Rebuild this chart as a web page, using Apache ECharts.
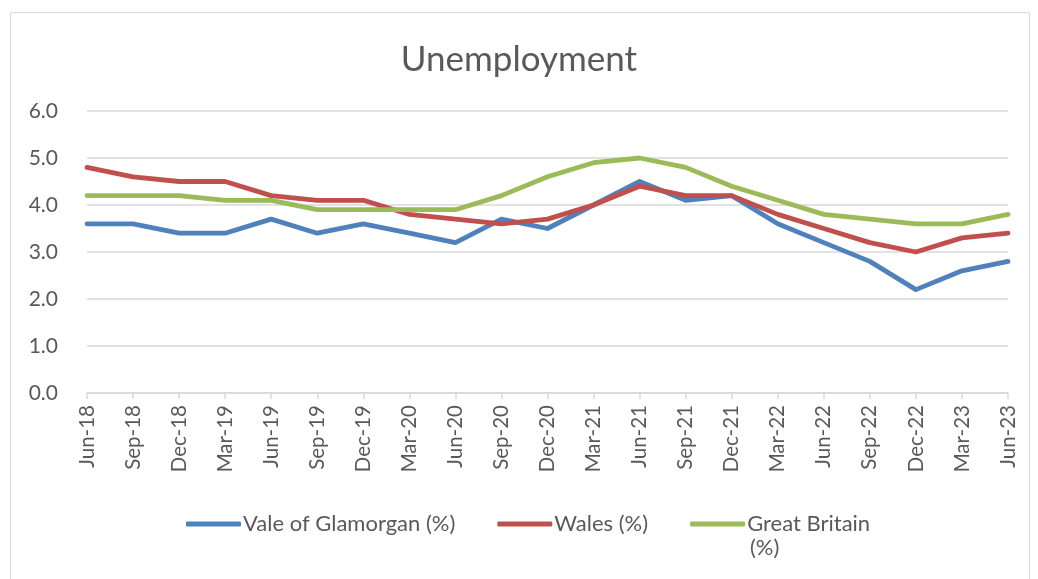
<!DOCTYPE html>
<html><head><meta charset="utf-8">
<script src="https://cdn.jsdelivr.net/npm/echarts@6/dist/echarts.min.js"></script>
<style>html,body{margin:0;padding:0;background:#fff}#c{width:1038px;height:579px}</style>
</head><body><div id="c"></div>
<script>
const categories = ["Jun-18","Sep-18","Dec-18","Mar-19","Jun-19","Sep-19","Dec-19","Mar-20","Jun-20","Sep-20","Dec-20","Mar-21","Jun-21","Sep-21","Dec-21","Mar-22","Jun-22","Sep-22","Dec-22","Mar-23","Jun-23"];
const vale = [3.6,3.6,3.4,3.4,3.7,3.4,3.6,3.4,3.2,3.7,3.5,4.0,4.5,4.1,4.2,3.6,3.2,2.8,2.2,2.6,2.8];
const wales = [4.8,4.6,4.5,4.5,4.2,4.1,4.1,3.8,3.7,3.6,3.7,4.0,4.4,4.2,4.2,3.8,3.5,3.2,3.0,3.3,3.4];
const gb = [4.2,4.2,4.2,4.1,4.1,3.9,3.9,3.9,3.9,4.2,4.6,4.9,5.0,4.8,4.4,4.1,3.8,3.7,3.6,3.6,3.8];
const yTicks = [0,1,2,3,4,5,6];

const chart = echarts.init(document.getElementById('c'), null, {renderer:'canvas'});
const font = 'Lato';
const mk = (name, data, color) => ({
  name, type:'line', data, symbol:'none', smooth:false,
  lineStyle:{width:4.8, color, cap:'round', join:'round'}, itemStyle:{color}
});
chart.setOption({
  animation:false,
  title:{text:'Unemployment', left:'center', top:37, textStyle:{fontFamily:font, fontSize:35, fontWeight:'normal', color:'#595959'}},
  grid:{left:87, right:30, top:111, bottom:186},
  legend:{
    left:181, top:508, itemWidth:55, itemHeight:5, itemGap:42,
    icon:'roundRect',
    textStyle:{fontFamily:font, fontSize:22, color:'#595959', padding:[0,0,0,-3]},
    formatter: n => n === 'Great Britain (%)' ? 'Great Britain' : n,
    data:['Vale of Glamorgan (%)','Wales (%)','Great Britain (%)']
  },
  xAxis:{
    type:'category', data:categories, boundaryGap:false,
    axisLine:{lineStyle:{color:'#D9D9D9', width:1.5}},
    axisTick:{show:true, length:6, lineStyle:{color:'#D9D9D9', width:1.5}},
    axisLabel:{rotate:90, interval:0, fontFamily:font, fontSize:20.5, color:'#595959', margin:12}
  },
  yAxis:{
    type:'value', min:yTicks[0], max:yTicks[yTicks.length-1], interval:1,
    axisLine:{show:false}, axisTick:{show:false},
    splitLine:{lineStyle:{color:'#D9D9D9', width:1.5}},
    axisLabel:{fontFamily:font, fontSize:21, color:'#595959', margin:29, formatter:v=>v.toFixed(1)}
  },
  graphic:[
    {type:'rect', shape:{x:10.5,y:12.5,width:1019,height:580}, style:{fill:'none', stroke:'#D9D9D9', lineWidth:1}},
    {type:'text', id:'pct', left:750, top:537, style:{text:'(%)', font:'22px Lato', fill:'#595959'}}
  ],
  series:[mk('Vale of Glamorgan (%)', vale, '#4F81BD'), mk('Wales (%)', wales, '#C0504D'), mk('Great Britain (%)', gb, '#9BBB59')]
});
</script></body></html>
